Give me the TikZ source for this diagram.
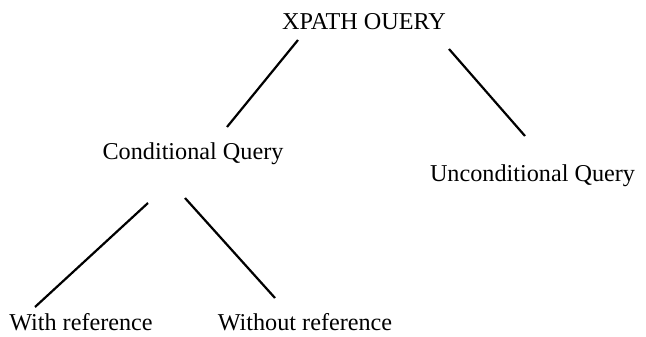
\documentclass[tikz,border=0pt]{standalone}
\usepackage{fontspec}
\setmainfont{Liberation Serif}
\begin{document}
\begin{tikzpicture}[x=1pt,y=-1pt,
  lbl/.style={anchor=base,inner sep=0pt,font=\fontsize{24.2}{29}\selectfont},
  edge/.style={line width=2.2pt,black}]
\useasboundingbox (0,0) rectangle (646,337);
\node[lbl] (xq) at (364,30) {XPATH OUERY};
\node[lbl] (cq) at (193,160) {Conditional Query};
\node[lbl] (uq) at (532.5,182) {Unconditional Query};
\node[lbl] (wr) at (81,330) {With reference};
\node[lbl] (wor) at (305,330) {Without reference};
\coordinate (a1) at (298,40);  \coordinate (a2) at (227,127);
\coordinate (b1) at (449,49);  \coordinate (b2) at (525,136);
\coordinate (c1) at (148,203); \coordinate (c2) at (35,307);
\coordinate (d1) at (185,198); \coordinate (d2) at (275,298);
\draw[edge] (a1) -- (a2);
\draw[edge] (b1) -- (b2);
\draw[edge] (c1) -- (c2);
\draw[edge] (d1) -- (d2);
\end{tikzpicture}
\end{document}
